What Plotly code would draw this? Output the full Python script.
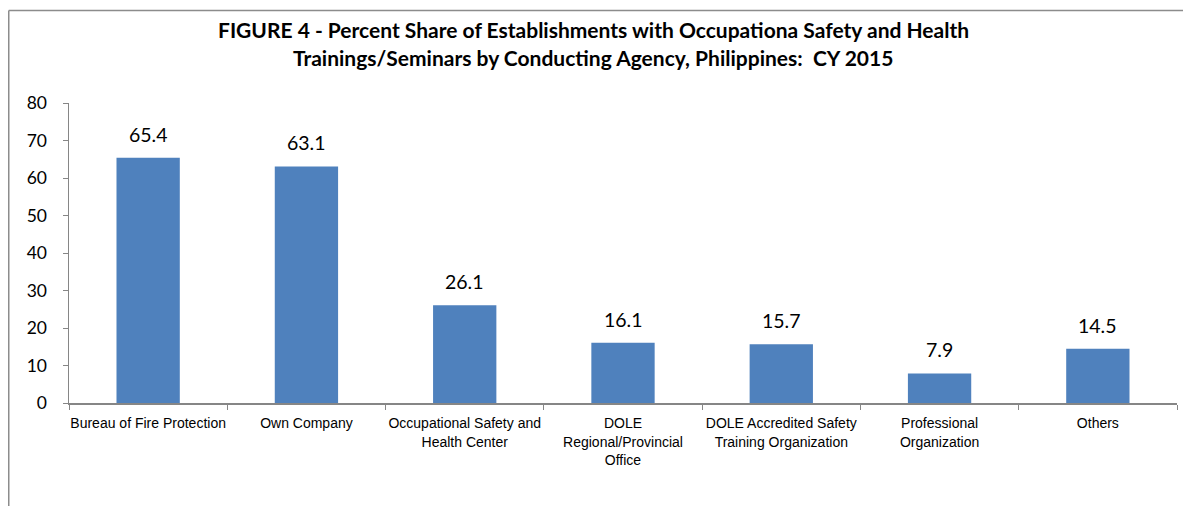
import plotly.graph_objects as go

categories = [
    "Bureau of Fire Protection",
    "Own Company",
    "Occupational Safety and<br>Health Center",
    "DOLE<br>Regional/Provincial<br>Office",
    "DOLE Accredited Safety<br>Training Organization",
    "Professional<br>Organization",
    "Others",
]
values = [65.4, 63.1, 26.1, 16.1, 15.7, 7.9, 14.5]
title_lines = [
    "FIGURE 4 - Percent Share of Establishments with Occupationa Safety and Health",
    "Trainings/Seminars by Conducting Agency, Philippines:  CY 2015",
]
y_ticks = [0, 10, 20, 30, 40, 50, 60, 70, 80]

W, H = 1183, 506
L, R, T, B = 69, 6, 103, 103

fig = go.Figure()
fig.add_trace(go.Bar(
    x=categories, y=values,
    marker=dict(color="#4F81BD", line=dict(width=0)),
    width=0.4,
    hoverinfo="x+y",
))

annotations = []
for c, v in zip(categories, values):
    annotations.append(dict(
        x=c, y=v, xref="x", yref="y", text=f"{v:.1f}", showarrow=False,
        yanchor="bottom", yshift=10,
        font=dict(family="Lato, Carlito, Calibri, sans-serif", size=19.5, color="#000000"),
    ))

pw = W - L - R
ph = H - T - B
for i, line in enumerate(title_lines):
    ypx = 29 + 28 * i
    annotations.append(dict(
        x=(593 - L) / pw, xref="paper", y=(H - B - ypx) / ph, yref="paper",
        xanchor="center", yanchor="middle", showarrow=False, text=f"<b>{line}</b>",
        font=dict(family="Lato, Carlito, Calibri, sans-serif", size=21, color="#000000"),
    ))

frame = dict(color="#8C8C8C", width=1.5)
x_left = (8.75 - L) / pw
y_top = (H - B - 10.5) / ph
fig.update_layout(
    width=W, height=H,
    margin=dict(l=L, r=R, t=T, b=B),
    paper_bgcolor="white", plot_bgcolor="white",
    showlegend=False,
    dragmode=False,
    annotations=annotations,
    shapes=[
        dict(type="line", xref="paper", yref="paper", x0=x_left, x1=(W - L) / pw,
             y0=y_top, y1=y_top, line=frame, layer="above"),
        dict(type="line", xref="paper", yref="paper", x0=x_left, x1=x_left,
             y0=y_top, y1=-B / ph, line=frame, layer="above"),
    ],
    xaxis=dict(
        type="category", automargin=False, tickangle=0,
        showline=True, linecolor="#868686", linewidth=1.5,
        ticks="outside", tickson="boundaries", ticklen=5, tickcolor="#868686",
        ticklabelstandoff=7,
        tickfont=dict(family="Liberation Sans, Arial, sans-serif", size=14, color="#000000"),
        showgrid=False, zeroline=False,
    ),
    yaxis=dict(
        range=[0, 80], tickvals=y_ticks, automargin=False,
        showline=True, linecolor="#868686", linewidth=1.5,
        ticks="outside", ticklen=5, tickcolor="#868686", ticklabelstandoff=12,
        tickfont=dict(family="Lato, Carlito, Calibri, sans-serif", size=17.5, color="#000000"),
        showgrid=False, zeroline=False,
    ),
)

fig.write_html(
    "out.html",
    config={"displayModeBar": False, "staticPlot": True},
    post_script="document.body.style.margin='0';document.body.style.overflow='hidden';",
)
